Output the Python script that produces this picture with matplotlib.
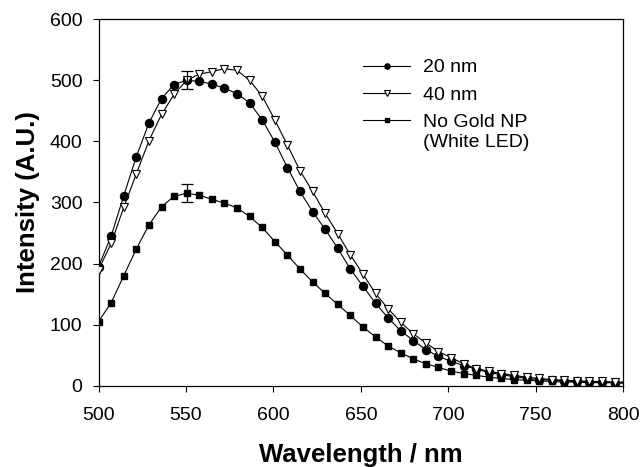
import matplotlib
matplotlib.use("Agg")
import matplotlib.pyplot as plt

# ---------------------------------------------------------------------------
# Data
# ---------------------------------------------------------------------------

wavelength = [
    500.0, 507.2, 514.4, 521.6, 528.8, 536.0, 543.2, 550.4, 557.6, 564.8,
    572.0, 579.2, 586.4, 593.6, 600.8, 608.0, 615.2, 622.4, 629.6, 636.8,
    644.0, 651.2, 658.4, 665.6, 672.8, 680.0, 687.2, 694.4, 701.6, 708.8,
    716.0, 723.2, 730.4, 737.6, 744.8, 752.0, 759.2, 766.4, 773.6, 780.8,
    788.0, 795.2, 802.4,
]

gold_20nm = [
    195, 245, 311, 375, 430, 470, 493, 500, 498, 494,
    487, 478, 463, 435, 399, 357, 318, 285, 256, 225,
    191, 163, 135, 111, 90, 74, 59, 48, 40, 33,
    27, 22, 18, 15, 12, 10, 9, 8, 7, 6,
    6, 5, 5,
]

gold_40nm = [
    190, 233, 292, 347, 401, 444, 477, 500, 510, 514,
    519, 516, 500, 474, 435, 394, 352, 318, 282, 249,
    214, 183, 151, 126, 104, 85, 70, 56, 46, 36,
    28, 24, 20, 17, 14, 12, 10, 9, 8, 7,
    7, 6, 6,
]

no_gold = [
    105, 136, 180, 224, 263, 293, 310, 315, 312, 305,
    299, 291, 277, 259, 236, 214, 191, 170, 151, 133,
    115, 96, 80, 65, 54, 44, 36, 30, 24, 20,
    17, 14, 12, 10, 9, 8, 7, 6, 6, 5,
    5, 5, 4,
]

# error bars drawn at a single wavelength
err_x = 550.4
err_40nm = (500, 15)
err_none = (315, 15)

x_ticks = [500, 550, 600, 650, 700, 750, 800]
y_ticks = [0, 100, 200, 300, 400, 500, 600]

# ---------------------------------------------------------------------------
# Plot
# ---------------------------------------------------------------------------

plt.rcParams["font.family"] = ["Liberation Sans", "DejaVu Sans"]

fig = plt.figure(figsize=(6.43, 4.67), dpi=100)
ax = fig.add_axes([0.1533, 0.174, 0.8157, 0.785])

line_kw = dict(color="black", linewidth=0.8)

ax.plot(wavelength, no_gold, marker="s", markersize=5.0,
        markerfacecolor="black", markeredgecolor="black",
        label="No Gold NP", zorder=2, **line_kw)
ax.plot(wavelength, gold_20nm, marker="o", markersize=5.8,
        markerfacecolor="black", markeredgecolor="black",
        label="20 nm", zorder=3, **line_kw)
ax.plot(wavelength, gold_40nm, marker="v", markersize=6.3,
        markerfacecolor="white", markeredgecolor="black",
        markeredgewidth=0.8, label="40 nm", zorder=4, **line_kw)

ax.errorbar([err_x], [err_40nm[0]], yerr=[err_40nm[1]], fmt="none",
            ecolor="black", elinewidth=0.9, capsize=4, capthick=0.9, zorder=5)
ax.errorbar([err_x], [err_none[0]], yerr=[err_none[1]], fmt="none",
            ecolor="black", elinewidth=0.9, capsize=4, capthick=0.9, zorder=5)

ax.set_xlim(500, 800)
ax.set_ylim(0, 600)
ax.set_xticks(x_ticks)
ax.set_yticks(y_ticks)
ax.tick_params(direction="out", length=4.5, width=0.8, labelsize=14,
               top=False, right=False)
ax.tick_params(axis="y", pad=7)
ax.tick_params(axis="x", pad=11)
for sp in ax.spines.values():
    sp.set_linewidth(0.9)

ax.set_xlabel("Wavelength / nm", fontsize=18.5, fontweight="bold", labelpad=13.5)
ax.set_ylabel("Intensity (A.U.)", fontsize=18.5, fontweight="bold", labelpad=7)

handles, labels = ax.get_legend_handles_labels()
order = [1, 2, 0]
leg = ax.legend([handles[i] for i in order], [labels[i] for i in order],
                loc="upper left", bbox_to_anchor=(0.505, 0.892),
                frameon=False, fontsize=14, markerscale=0.65,
                handlelength=2.4, handletextpad=0.65, labelspacing=0.5,
                borderpad=0, borderaxespad=0)
ax.text(0.618, 0.664, "(White LED)", transform=ax.transAxes,
        fontsize=14, ha="left", va="center")

fig.savefig("out.png", dpi=100)
